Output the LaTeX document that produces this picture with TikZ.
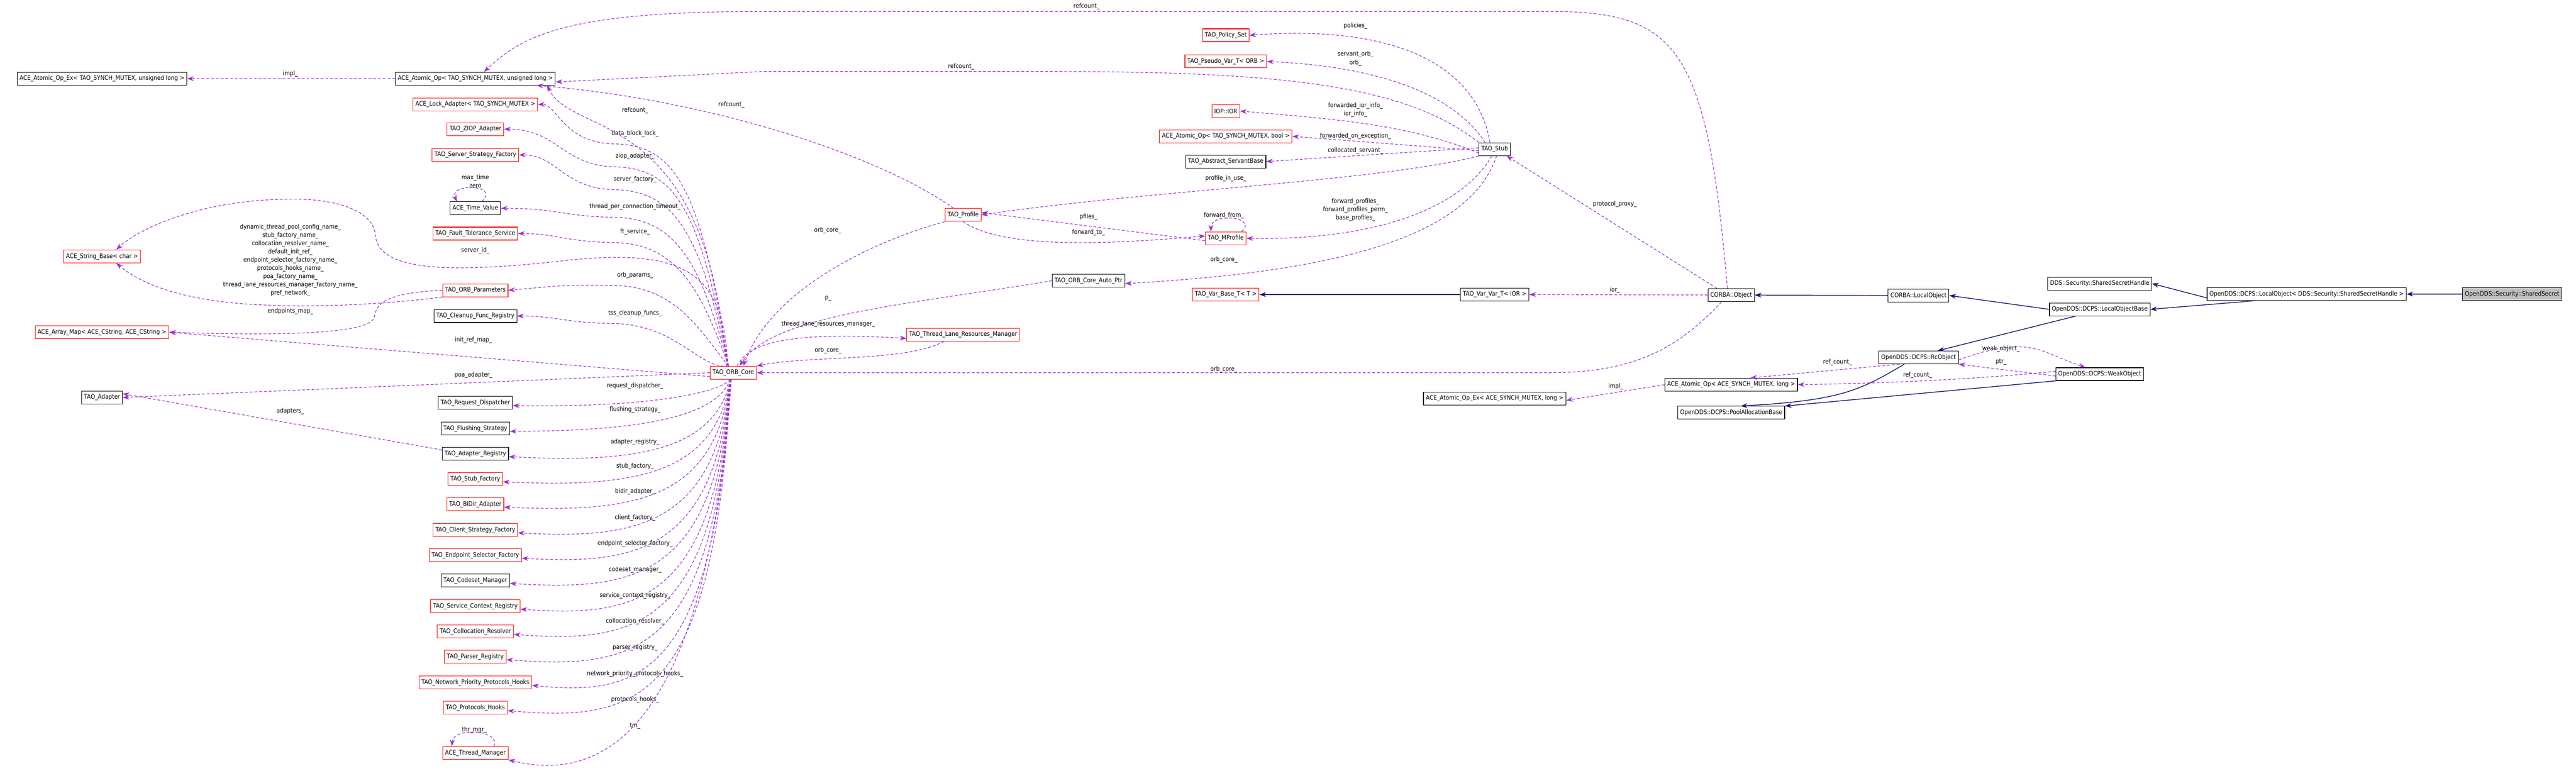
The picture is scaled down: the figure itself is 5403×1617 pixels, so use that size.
\documentclass[tikz,border=0pt]{standalone}
\usepackage{fontspec}
\setmainfont{DejaVu Sans Condensed}
\usetikzlibrary{arrows.meta}
\definecolor{cuse}{RGB}{154,50,205}
\definecolor{cinh}{RGB}{25,25,112}
\definecolor{cred}{RGB}{255,0,0}
\definecolor{cgray}{RGB}{191,191,191}

\tikzset{
  cls/.style={draw=black,line width=1.2pt,fill=white,minimum height=27pt,inner sep=5pt,font=\fontsize{13}{14}\selectfont},
  clsred/.style={cls,draw=cred},
  uses/.style={draw=cuse,dashed,dash pattern=on 6pt off 4pt,line width=1.3pt,-{Stealth[length=14pt,width=10pt]}},
  inh/.style={draw=cinh,line width=1.6pt,-{Stealth[length=14pt,width=10pt]}},
  lbl/.style={inner sep=0pt,font=\fontsize{13}{17.4}\selectfont,align=center},
}

\begin{document}
\begin{tikzpicture}[x=1pt,y=-1pt]
\useasboundingbox (0,0) rectangle (5403,1617);

  % classes, left and middle columns
  \node[cls] (aopexU) at (214,165) {ACE\_Atomic\_Op\_Ex< TAO\_SYNCH\_MUTEX, unsigned long >};
  \node[clsred] (strBase) at (214,538) {ACE\_String\_Base< char >};
  \node[clsred] (arrMap) at (214,697) {ACE\_Array\_Map< ACE\_CString, ACE\_CString >};
  \node[cls] (adapter) at (214,834) {TAO\_Adapter};
  \node[cls] (aopU) at (997,165) {ACE\_Atomic\_Op< TAO\_SYNCH\_MUTEX, unsigned long >};
  \node[clsred] (lockAd) at (997,219) {ACE\_Lock\_Adapter< TAO\_SYNCH\_MUTEX >};
  \node[clsred] (ziop) at (997,271) {TAO\_ZIOP\_Adapter};
  \node[clsred] (serverSF) at (997,325) {TAO\_Server\_Strategy\_Factory};
  \node[cls] (timeVal) at (997,437) {ACE\_Time\_Value};
  \node[clsred] (ftServ) at (997,490) {TAO\_Fault\_Tolerance\_Service};
  \node[clsred] (orbParams) at (997,609) {TAO\_ORB\_Parameters};
  \node[cls] (cleanup) at (997,663) {TAO\_Cleanup\_Func\_Registry};
  \node[cls] (reqDisp) at (997,845) {TAO\_Request\_Dispatcher};
  \node[cls] (flushing) at (997,899) {TAO\_Flushing\_Strategy};
  \node[cls] (adReg) at (997,952) {TAO\_Adapter\_Registry};
  \node[clsred] (stubFac) at (997,1005) {TAO\_Stub\_Factory};
  \node[clsred] (bidir) at (997,1058) {TAO\_BiDir\_Adapter};
  \node[clsred] (clientSF) at (997,1112) {TAO\_Client\_Strategy\_Factory};
  \node[clsred] (endpSF) at (997,1165) {TAO\_Endpoint\_Selector\_Factory};
  \node[cls] (codeset) at (997,1218) {TAO\_Codeset\_Manager};
  \node[clsred] (servCtx) at (997,1272) {TAO\_Service\_Context\_Registry};
  \node[clsred] (colloc) at (997,1325) {TAO\_Collocation\_Resolver};
  \node[clsred] (parser) at (997,1378) {TAO\_Parser\_Registry};
  \node[clsred] (netPrio) at (997,1432) {TAO\_Network\_Priority\_Protocols\_Hooks};
  \node[clsred] (protHooks) at (997,1485) {TAO\_Protocols\_Hooks};
  \node[clsred] (thrMgr) at (997,1580) {ACE\_Thread\_Manager};
  \node[clsred] (orbCore) at (1538,782) {TAO\_ORB\_Core};

  % classes, right part
  \node[clsred] (profile) at (2020,451) {TAO\_Profile};
  \node[clsred] (thrLane) at (2020,702) {TAO\_Thread\_Lane\_Resources\_Manager};
  \node[cls] (autoPtr) at (2283,589) {TAO\_ORB\_Core\_Auto\_Ptr};
  \node[clsred] (policySet) at (2571,74) {TAO\_Policy\_Set};
  \node[clsred] (pseudoVar) at (2571,129) {TAO\_Pseudo\_Var\_T< ORB >};
  \node[clsred] (ior) at (2571,233) {IOP::IOR};
  \node[clsred] (aopBool) at (2571,286) {ACE\_Atomic\_Op< TAO\_SYNCH\_MUTEX, bool >};
  \node[cls] (servBase) at (2571,339) {TAO\_Abstract\_ServantBase};
  \node[clsred] (mprofile) at (2571,500) {TAO\_MProfile};
  \node[clsred] (varBase) at (2571,618) {TAO\_Var\_Base\_T< T >};
  \node[cls] (stub) at (3135,313) {TAO\_Stub};
  \node[cls] (varVar) at (3135,618) {TAO\_Var\_Var\_T< IOR >};
  \node[cls] (aopExL) at (3135,836) {ACE\_Atomic\_Op\_Ex< ACE\_SYNCH\_MUTEX, long >};
  \node[cls] (corbaObj) at (3631,619) {CORBA::Object};
  \node[cls] (aopL) at (3631,807) {ACE\_Atomic\_Op< ACE\_SYNCH\_MUTEX, long >};
  \node[cls] (poolAlloc) at (3631,866) {OpenDDS::DCPS::PoolAllocationBase};
  \node[cls] (localObj) at (4024,620) {CORBA::LocalObject};
  \node[cls] (rcObj) at (4024,750) {OpenDDS::DCPS::RcObject};
  \node[cls] (ssHandle) at (4404,595) {DDS::Security::SharedSecretHandle};
  \node[cls] (lobBase) at (4404,649) {OpenDDS::DCPS::LocalObjectBase};
  \node[cls] (weakObj) at (4404,785) {OpenDDS::DCPS::WeakObject};
  \node[cls] (localObjT) at (4838,617) {OpenDDS::DCPS::LocalObject< DDS::Security::SharedSecretHandle >};
  \node[cls,fill=cgray] (sharedSecret) at (5269,617) {OpenDDS::Security::SharedSecret};

  % inheritance
  \draw[inh] (sharedSecret) -- (localObjT);
  \draw[inh] ([yshift=-8]localObjT.west) -- (ssHandle.east);
  \draw[inh] ([xshift=-110]localObjT.south) -- (lobBase.east);
  \draw[inh] (lobBase.west) -- (localObj.east);
  \draw[inh] (localObj) -- (corbaObj);
  \draw[inh] ([xshift=-50]lobBase.south) -- ([xshift=40]rcObj.north);
  \draw[inh] ([xshift=-30]rcObj.south) .. controls (3900,820) and (3860,840) .. ([xshift=20]poolAlloc.north);
  \draw[inh] (weakObj.south west) -- (poolAlloc.north east);
  \draw[inh] (varVar) -- (varBase);

  % members of TAO_ORB_Core, middle column
  \foreach \t/\l/\y/\ty in {lockAd/data\_block\_lock\_/280/219, ziop/ziop\_adapter\_/328/271,
      serverSF/server\_factory\_/376/325, timeVal/thread\_per\_connection\_timeout\_/434/437,
      ftServ/ft\_service\_/487/490, orbParams/orb\_params\_/577/600, cleanup/tss\_cleanup\_funcs\_/657/663} {
    \draw[uses] ([xshift=-10]orbCore.north) .. controls (1470,\y+120) and (1420,\y+25) .. (1290,\y+22)
      .. controls (1180,\y+20) and (1170,\ty) .. (\t.east);
    \node[lbl] (l\t) at (1332,\y) {\l};
  }
  \foreach \t/\l/\y in {reqDisp/request\_dispatcher\_/810, flushing/flushing\_strategy\_/859,
      adReg/adapter\_registry\_/927, stubFac/stub\_factory\_/978, bidir/bidir\_adapter\_/1031,
      clientSF/client\_factory\_/1086, endpSF/endpoint\_selector\_factory\_/1140,
      codeset/codeset\_manager\_/1195, servCtx/service\_context\_registry\_/1250,
      colloc/collocation\_resolver\_/1304, parser/parser\_registry\_/1359,
      netPrio/network\_priority\_protocols\_hooks\_/1414, protHooks/protocols\_hooks\_/1468} {
    \draw[uses] ([xshift=-6]orbCore.south) .. controls (1500,\y+20) and (1330,\y+45) .. ([yshift=-6]\t.east);
    \node[lbl] (l\t) at (1332,\y) {\l};
  }
  \draw[uses] ([xshift=-4]orbCore.south) .. controls (1480,1560) and (1250,1640) .. (thrMgr.south east);
  \node[lbl] (lthrMgr) at (1332,1523) {tm\_};
  \draw[uses] ([xshift=-30]thrMgr.north east) .. controls (1050,1530) and (950,1525) .. ([xshift=20]thrMgr.north west);
  \node[lbl] (lthrSelf) at (995,1532) {thr\_mgr\_};

  % TAO_ORB_Core, other members
  \draw[uses] ([xshift=-14]orbCore.north) .. controls (1480,220) and (1200,290) .. ([xshift=-18]aopU.south east);
  \node[lbl] (lrefOrb) at (1332,232) {refcount\_};
  \draw[uses] ([xshift=-12]orbCore.north) .. controls (1520,560) and (1420,525) .. (1200,545)
    .. controls (900,580) and (790,560) .. (787,490) .. controls (780,440) and (700,415) .. (600,418)
    .. controls (420,420) and (290,480) .. ([xshift=30]strBase.north);
  \node[lbl] (lserverId) at (997,525) {server\_id\_};
  \draw[uses] ([yshift=-8]orbCore.west) -- (arrMap.east);
  \node[lbl] (linitRef) at (993,714) {init\_ref\_map\_};
  \draw[uses] (orbCore.west) -- (adapter.east);
  \node[lbl] (lpoa) at (993,787) {poa\_adapter\_};
  \draw[uses] ([xshift=8]orbCore.north) .. controls (1570,720) and (1650,695) .. ([yshift=-8]thrLane.west);
  \node[lbl] (lthrLane) at (1737,680) {thread\_lane\_resources\_manager\_};

  % TAO_ORB_Parameters and friends
  \draw[uses] (orbParams.south west) .. controls (800,640) and (640,645) .. (560,640)
    .. controls (400,635) and (300,600) .. ([xshift=30]strBase.south);
  \node[lbl] (lstrNames) at (609,546) {dynamic\_thread\_pool\_config\_name\_\\stub\_factory\_name\_\\collocation\_resolver\_name\_\\default\_init\_ref\_\\endpoint\_selector\_factory\_name\_\\protocols\_hooks\_name\_\\poa\_factory\_name\_\\thread\_lane\_resources\_manager\_factory\_name\_\\pref\_network\_};
  \draw[uses] (orbParams.west) .. controls (800,615) and (790,640) .. (785,665) .. controls (780,700) and (600,705) .. (arrMap.east);
  \node[lbl] (lendpoints) at (609,653) {endpoints\_map\_};
  \draw[uses] ([yshift=8]adReg.west) -- ([yshift=8]adapter.east);
  \node[lbl] (ladapters) at (609,863) {adapters\_};
  \draw[uses] (aopU.west) -- (aopexU.east);
  \node[lbl] (limplU) at (609,155) {impl\_};
  \draw[uses] ([xshift=-40]timeVal.north east) .. controls (1050,385) and (940,385) .. ([xshift=15]timeVal.north west);
  \node[lbl] (ltimeSelf) at (997,380) {max\_time\\zero};

  % TAO_Stub members
  \draw[uses] ([xshift=-10]stub.north) .. controls (3100,150) and (2950,50) .. (policySet.east);
  \node[lbl] (lpolicies) at (2843,54) {policies\_};
  \draw[uses] ([xshift=-20]stub.north) .. controls (3050,200) and (2900,140) .. (pseudoVar.east);
  \node[lbl] (lpseudo) at (2843,123) {servant\_orb\_\\orb\_};
  \draw[uses] ([yshift=-8]stub.west) .. controls (2950,260) and (2800,250) .. (ior.east);
  \node[lbl] (lior) at (2843,231) {forwarded\_ior\_info\_\\ior\_info\_};
  \draw[uses] ([yshift=-3]stub.west) -- (aopBool.east);
  \node[lbl] (lfwdExc) at (2843,286) {forwarded\_on\_exception\_};
  \draw[uses] ([yshift=3]stub.west) -- (servBase.east);
  \node[lbl] (lcolloc) at (2843,316) {collocated\_servant\_};
  \draw[uses] (stub.south west) .. controls (2900,380) and (2400,400) .. (profile.east);
  \node[lbl] (lprofUse) at (2571,374) {profile\_in\_use\_};
  \draw[uses] ([xshift=-6]stub.south) .. controls (3070,430) and (2900,505) .. (mprofile.east);
  \node[lbl] (lfwdProf) at (2843,440) {forward\_profiles\_\\forward\_profiles\_perm\_\\base\_profiles\_};
  \draw[uses] ([xshift=4]stub.south) .. controls (3080,500) and (2800,570) .. ([yshift=-6]autoPtr.east);
  \node[lbl] (lorbAuto) at (2567,545) {orb\_core\_};
  \draw[uses] (stub.north west) .. controls (2950,180) and (2700,150) .. (2200,150) -- (1600,150) -- ([yshift=-7]aopU.east);
  \node[lbl] (lrefStub) at (2016,140) {refcount\_};

  % TAO_Profile and TAO_MProfile
  \draw[uses] ([yshift=-5]mprofile.west) -- ([yshift=5]profile.east);
  \node[lbl] (lpfiles) at (2283,455) {pfiles\_};
  \draw[uses] (profile.south) .. controls (2100,520) and (2300,515) .. ([yshift=5]mprofile.west);
  \node[lbl] (lfwdTo) at (2283,488) {forward\_to\_};
  \draw[uses] ([xshift=-10]mprofile.north east) .. controls (2640,455) and (2540,445) .. ([xshift=12]mprofile.north west);
  \node[lbl] (lfwdFrom) at (2567,452) {forward\_from\_};
  \draw[uses] ([xshift=-20]profile.north) .. controls (1850,330) and (1500,210) .. ([xshift=-40]aopU.south east);
  \node[lbl] (lrefProf) at (1534,220) {refcount\_};
  \draw[uses] (profile.south west) .. controls (1850,500) and (1620,600) .. ([xshift=-28]orbCore.north east);
  \node[lbl] (lorbProf) at (1736,483) {orb\_core\_};
  \draw[uses] (autoPtr.west) .. controls (1900,640) and (1620,660) .. ([xshift=-36]orbCore.north east);
  \node[lbl] (lp) at (1737,626) {p\_};
  \draw[uses] ([xshift=-40]thrLane.south) .. controls (1900,760) and (1700,745) .. (orbCore.north east);
  \node[lbl] (lorbLane) at (1737,735) {orb\_core\_};

  % CORBA::Object members
  \draw[uses] ([xshift=-8]corbaObj.north) .. controls (3580,100) and (3520,24) .. (3250,24) -- (1600,24)
    .. controls (1200,24) and (1100,70) .. ([xshift=18]aopU.north);
  \node[lbl] (lrefObj) at (2279,13) {refcount\_};
  \draw[uses] ([xshift=-30]corbaObj.north) -- ([xshift=25]stub.south);
  \node[lbl] (lproxy) at (3387,428) {protocol\_proxy\_};
  \draw[uses] (corbaObj.west) -- (varVar.east);
  \node[lbl] (lior2) at (3387,609) {ior\_};
  \draw[uses] ([xshift=-20]corbaObj.south) .. controls (3520,730) and (3430,782) .. (3250,782) -- (orbCore.east);
  \node[lbl] (lorbObj) at (2567,775) {orb\_core\_};

  % OpenDDS reference counting
  \draw[uses] ([yshift=-5]rcObj.east) .. controls (4260,700) and (4280,740) .. ([xshift=-30]weakObj.north);
  \node[lbl] (lweak) at (4197,732) {weak\_object\_};
  \draw[uses] ([yshift=-4]weakObj.west) -- (rcObj.south east);
  \node[lbl] (lptr) at (4197,759) {ptr\_};
  \draw[uses] ([xshift=-40]rcObj.south) -- ([xshift=40]aopL.north);
  \node[lbl] (lrefRc) at (3854,760) {ref\_count\_};
  \draw[uses] ([yshift=6]weakObj.west) .. controls (4100,800) and (3900,805) .. (aopL.east);
  \node[lbl] (lrefWeak) at (4022,787) {ref\_count\_};
  \draw[uses] (aopL.west) -- ([yshift=-4]aopExL.east);
  \node[lbl] (limplL) at (3389,811) {impl\_};
\end{tikzpicture}
\end{document}
